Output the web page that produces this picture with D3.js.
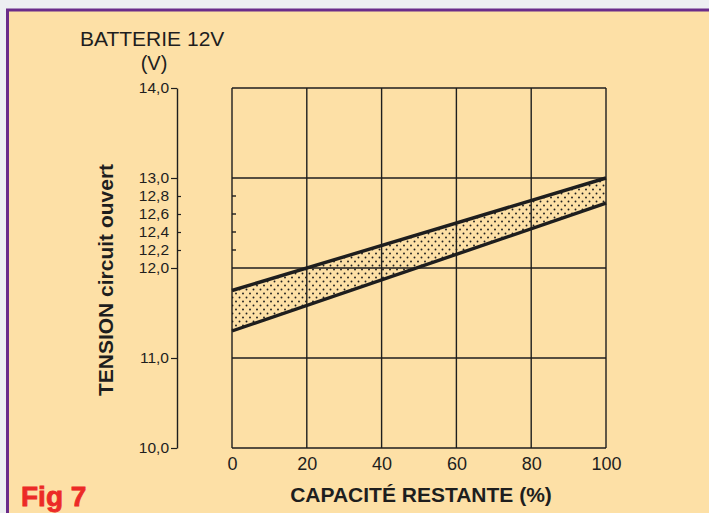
<!DOCTYPE html>
<html>
<head>
<meta charset="utf-8">
<script src="https://cdn.jsdelivr.net/npm/d3@7"></script>
<style>
  body { margin: 0; background: #edeff2; }
  svg { display: block; font-family: "Liberation Sans", Arial, sans-serif; }
</style>
</head>
<body>
<div id="chart"></div>
<script>
// data
var capacity = [0, 100];              // % remaining capacity
var upperV = [11.75, 13.0];           // upper bound of open-circuit voltage
var lowerV = [11.3, 12.72];           // lower bound
var xTicks = [0, 20, 40, 60, 80, 100];
var yTicks = [14, 13, 12.8, 12.6, 12.4, 12.2, 12, 11, 10];
var yMinor = [12.8, 12.6, 12.4, 12.2];
var yGrid = [10, 11, 12, 13, 14];

var width = 709, height = 513;
var ink = '#1e1e1e';

var svg = d3.select('#chart').append('svg')
    .attr('width', width)
    .attr('height', height);

// panel
svg.append('rect')
    .attr('x', 7.5).attr('y', 10)
    .attr('width', width + 10).attr('height', height + 10)
    .attr('fill', '#fde0a6')
    .attr('stroke', '#6a2c8a')
    .attr('stroke-width', 3);

var x = d3.scaleLinear().domain([0, 100]).range([232, 606]);
var y = d3.scaleLinear().domain([10, 14]).range([448, 88]);

// stipple pattern for the band
var defs = svg.append('defs');
var pat = defs.append('pattern')
    .attr('id', 'dots')
    .attr('patternUnits', 'userSpaceOnUse')
    .attr('width', 7).attr('height', 8);
pat.append('circle').attr('cx', 1.5).attr('cy', 1.5).attr('r', 0.95).attr('fill', ink);
pat.append('circle').attr('cx', 5).attr('cy', 5.5).attr('r', 0.95).attr('fill', ink);

// grid
var grid = svg.append('g')
    .attr('stroke', ink)
    .attr('stroke-width', 1.4);
grid.selectAll('line.v')
    .data(xTicks)
    .enter().append('line')
    .attr('class', 'v')
    .attr('x1', function(d) { return x(d); })
    .attr('x2', function(d) { return x(d); })
    .attr('y1', y(14)).attr('y2', y(10));
grid.selectAll('line.h')
    .data(yGrid)
    .enter().append('line')
    .attr('class', 'h')
    .attr('x1', x(0)).attr('x2', x(100))
    .attr('y1', function(d) { return y(d); })
    .attr('y2', function(d) { return y(d); });
grid.selectAll('line.m')
    .data(yMinor)
    .enter().append('line')
    .attr('class', 'm')
    .attr('x1', x(0)).attr('x2', x(0) + 4)
    .attr('y1', function(d) { return y(d); })
    .attr('y2', function(d) { return y(d); });

// band between the two limits
var pts = capacity.map(function(c, i) { return [c, upperV[i]]; });
var low = capacity.map(function(c, i) { return [c, lowerV[i]]; });
var line = d3.line()
    .x(function(d) { return x(d[0]); })
    .y(function(d) { return y(d[1]); });

svg.append('path')
    .attr('d', line(pts.concat(low.slice().reverse())) + 'Z')
    .attr('fill', 'url(#dots)');
svg.append('path')
    .attr('d', line(pts))
    .attr('fill', 'none').attr('stroke', ink).attr('stroke-width', 3.4);
svg.append('path')
    .attr('d', line(low))
    .attr('fill', 'none').attr('stroke', ink).attr('stroke-width', 3.4);

// y axis
var fmt = function(d) { return d3.format('.1f')(d).replace('.', ','); };
var yAxis = svg.append('g')
    .attr('transform', 'translate(177,0)')
    .call(d3.axisLeft(y).tickValues(yTicks).tickFormat(fmt).tickSize(6).tickSizeOuter(0).tickPadding(2));
yAxis.select('.domain').attr('stroke', ink).attr('stroke-width', 1.4);
yAxis.selectAll('.tick line')
    .attr('stroke', ink)
    .attr('stroke-width', 1.2)
    .attr('x2', function(d) { return yMinor.indexOf(d) >= 0 ? 4 : -6; });
yAxis.selectAll('.tick text')
    .attr('x', -8)
    .attr('fill', ink)
    .style('font-size', '15.5px');

// x axis labels
var xAxis = svg.append('g')
    .attr('transform', 'translate(0,' + y(10) + ')')
    .call(d3.axisBottom(x).tickValues(xTicks).tickSize(0).tickPadding(9));
xAxis.select('.domain').remove();
xAxis.selectAll('.tick text')
    .attr('fill', ink)
    .style('font-size', '18px');

// titles
svg.append('text')
    .attr('x', 80).attr('y', 46)
    .attr('fill', ink)
    .style('font-size', '21px')
    .text('BATTERIE 12V');
svg.append('text')
    .attr('x', 154).attr('y', 70)
    .attr('fill', ink)
    .style('text-anchor', 'middle')
    .style('font-size', '20px')
    .text('(V)');
svg.append('text')
    .attr('transform', 'translate(113,280) rotate(-90)')
    .attr('fill', ink)
    .style('text-anchor', 'middle')
    .style('font-size', '21px')
    .style('font-weight', 'bold')
    .text('TENSION circuit ouvert');
svg.append('text')
    .attr('x', 421).attr('y', 502)
    .attr('fill', ink)
    .style('text-anchor', 'middle')
    .style('font-size', '21px')
    .style('font-weight', 'bold')
    .text('CAPACITÉ RESTANTE (%)');
svg.append('text')
    .attr('x', 21).attr('y', 506)
    .attr('fill', '#ec2a27')
    .attr('stroke', '#ec2a27')
    .attr('stroke-width', 0.8)
    .style('font-size', '28px')
    .style('font-weight', 'bold')
    .text('Fig 7');
</script>
</body>
</html>
